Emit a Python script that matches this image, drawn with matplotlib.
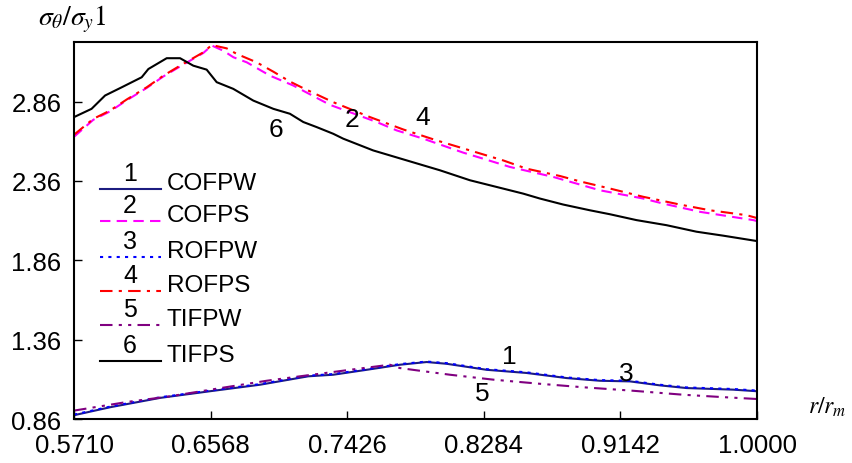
import matplotlib.pyplot as plt

plt.rcParams['font.family'] = ['Liberation Sans', 'DejaVu Sans']
plt.rcParams['mathtext.fontset'] = 'stix'

# 曲線データ (r/rm, σθ/σy)
x_tifps = [0.571, 0.582, 0.5905, 0.601, 0.6135, 0.6177, 0.6292, 0.6376, 0.6459, 0.6543,
           0.6606, 0.671, 0.6836, 0.6962, 0.7066, 0.715, 0.7234, 0.7338, 0.7401, 0.7589,
           0.7904, 0.8008, 0.8197, 0.8364, 0.8531, 0.8636, 0.8783, 0.895, 0.9076, 0.9243,
           0.9432, 0.962, 0.9788, 1.0]
y_tifps = [2.762, 2.814, 2.898, 2.950, 3.013, 3.065, 3.133, 3.133, 3.086, 3.061,
           2.982, 2.940, 2.866, 2.814, 2.783, 2.731, 2.699, 2.657, 2.626, 2.552,
           2.458, 2.427, 2.364, 2.322, 2.280, 2.249, 2.211, 2.175, 2.150, 2.113,
           2.081, 2.040, 2.015, 1.981]

x_rofps = [0.571, 0.5831, 0.5936, 0.6041, 0.6167, 0.6271, 0.6376, 0.6522, 0.6575, 0.6669,
           0.6732, 0.6857, 0.6962, 0.7066, 0.715, 0.7338, 0.7569, 0.7778, 0.7988, 0.8197,
           0.8406, 0.8553, 0.8762, 0.8888, 0.9076, 0.9285, 0.9516, 0.9704, 0.9935, 1.0]
y_rofps = [2.651, 2.751, 2.803, 2.873, 2.950, 3.023, 3.086, 3.170, 3.216, 3.195,
           3.160, 3.107, 3.048, 2.986, 2.944, 2.856, 2.762, 2.684, 2.615, 2.552,
           2.489, 2.437, 2.391, 2.357, 2.312, 2.260, 2.211, 2.175, 2.144, 2.126]

x_cofps = [0.571, 0.5831, 0.5936, 0.6041, 0.6167, 0.6271, 0.6376, 0.6522, 0.6575, 0.6648,
           0.6711, 0.6795, 0.6941, 0.7087, 0.7318, 0.7611, 0.7737, 0.7904, 0.8155, 0.828,
           0.8448, 0.872, 0.8867, 0.9013, 0.9285, 0.9411, 0.9643, 0.9977, 1.0]
y_cofps = [2.638, 2.745, 2.798, 2.868, 2.946, 3.018, 3.081, 3.166, 3.213, 3.180,
           3.139, 3.107, 3.023, 2.961, 2.839, 2.731, 2.678, 2.626, 2.538, 2.500,
           2.448, 2.385, 2.343, 2.301, 2.249, 2.217, 2.165, 2.113, 2.107]

x_cofpw = [0.571, 0.5936, 0.625, 0.6564, 0.6878, 0.7181, 0.7338, 0.7548, 0.7757, 0.7925,
           0.805, 0.8302, 0.8553, 0.8804, 0.9013, 0.9202, 0.939, 0.9558, 0.9851, 1.0]
y_cofpw = [0.884, 0.934, 0.993, 1.035, 1.076, 1.129, 1.139, 1.170, 1.202, 1.219,
           1.208, 1.170, 1.150, 1.118, 1.101, 1.097, 1.072, 1.055, 1.045, 1.035]
y_rofpw = [0.888, 0.938, 0.997, 1.039, 1.080, 1.133, 1.143, 1.174, 1.206, 1.222,
           1.212, 1.174, 1.154, 1.122, 1.105, 1.101, 1.076, 1.059, 1.049, 1.039]

x_tifpw = [0.571, 0.6041, 0.6313, 0.6606, 0.692, 0.7129, 0.7443, 0.7694, 0.7757, 0.7883,
           0.8071, 0.8343, 0.8636, 0.8908, 0.9222, 0.9536, 0.9767, 1.0]
y_tifpw = [0.913, 0.967, 1.003, 1.051, 1.101, 1.129, 1.170, 1.202, 1.181, 1.164,
           1.139, 1.108, 1.082, 1.060, 1.038, 1.013, 0.999, 0.986]

x_ticks = [0.5710, 0.6568, 0.7426, 0.8284, 0.9142, 1.0000]
y_ticks = [0.86, 1.36, 1.86, 2.36, 2.86]

names = ['COFPW', 'COFPS', 'ROFPW', 'ROFPS', 'TIFPW', 'TIFPS']
colors = ['#1c1c80', '#ff00ff', '#0000ff', '#ff0000', '#800080', '#000000']
styles = ['-', (0, (5, 3)), (0, (1.5, 2.5)), (0, (6, 3, 1.5, 3)), (0, (6, 3, 1.5, 3, 1.5, 3)), '-']

fig = plt.figure(figsize=(8.52, 4.64), dpi=100)
ax = fig.add_axes([0.0869, 0.0948, 0.8016, 0.8125])

series = [(x_cofpw, y_cofpw), (x_cofps, y_cofps), (x_cofpw, y_rofpw),
          (x_rofps, y_rofps), (x_tifpw, y_tifpw), (x_tifps, y_tifps)]
for i, (xs, ys) in enumerate(series):
    ax.plot(xs, ys, color=colors[i], linestyle=styles[i], linewidth=1.5)

ax.set_xlim(0.571, 1.0)
ax.set_ylim(0.86, 3.235)
ax.set_xticks(x_ticks)
ax.set_xticklabels([f'{v:.4f}' for v in x_ticks])
ax.set_yticks(y_ticks)
ax.set_yticklabels([f'{v:.2f}' for v in y_ticks])
ax.tick_params(direction='in', length=6, width=1, labelsize=18.5)
ax.tick_params(axis='x', pad=10)
ax.tick_params(axis='y', pad=9)
for s in ax.spines.values():
    s.set_linewidth(1.5)

# 凡例 (手書き)
line_y = [0.610, 0.525, 0.430, 0.340, 0.249, 0.154]
for i in range(6):
    ax.plot([0.038, 0.127], [line_y[i]] * 2, color=colors[i], linestyle=styles[i],
            linewidth=1.5, transform=ax.transAxes)
    ax.text(0.082, line_y[i] + 0.010, str(i + 1), transform=ax.transAxes,
            ha='center', va='bottom', fontsize=18)
    ax.text(0.136, line_y[i] - 0.014, names[i], transform=ax.transAxes,
            ha='left', va='bottom', fontsize=17.5)

# 曲線番号
labels_pos = {'6': (0.6979, 2.688), '2': (0.7456, 2.751), '4': (0.7902, 2.764),
              '1': (0.8442, 1.256), '3': (0.9177, 1.150), '5': (0.8272, 1.024)}
for k, (lx, ly) in labels_pos.items():
    ax.text(lx, ly, k, ha='center', va='center', fontsize=19)

fig.text(0.045, 0.945, r'$\sigma_\theta/\sigma_y1$', fontsize=20, ha='left', va='baseline')
fig.text(0.948, 0.108, r'$r/r_m$', fontsize=17, ha='left', va='baseline')

plt.savefig('out.png', dpi=100)
